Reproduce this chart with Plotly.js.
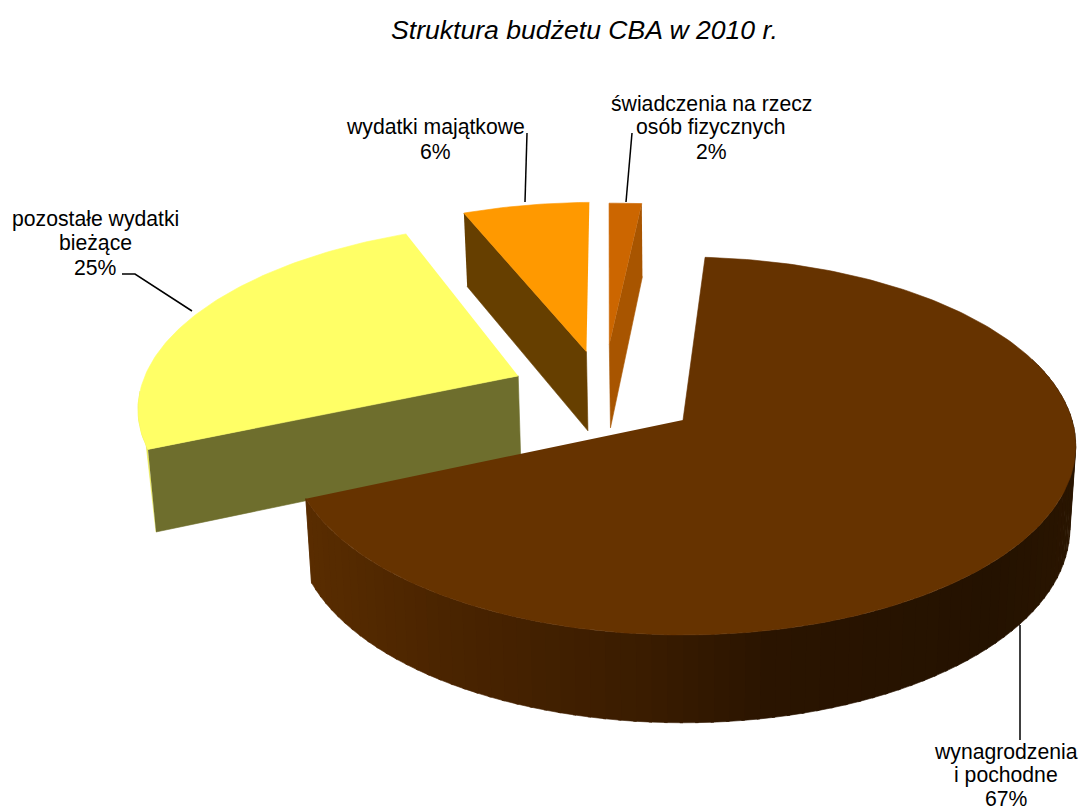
<!DOCTYPE html>
<html><head><meta charset="utf-8">
<script src="https://cdn.plot.ly/plotly-3.0.1.min.js"></script>
<style>html,body{margin:0;padding:0;background:#fff}#c{width:1080px;height:812px}</style>
</head><body><div id="c"></div>
<script>
const categories = ["wynagrodzenia i pochodne","pozostałe wydatki bieżące","wydatki majątkowe","świadczenia na rzecz osób fizycznych"];
const values = [67.4,25.1,6.2,1.6];
const sliceLabels = [["wynagrodzenia","i pochodne","67%"],["pozostałe wydatki","bieżące","25%"],["wydatki majątkowe","6%"],["świadczenia na rzecz","osób fizycznych","2%"]];
const topColors = ["#663300","#FFFF66","#FF9900","#CC6600"];
const wallColors = ["#663300","#6E6E2D","#663F00","#A85500"];
const titleText = "Struktura budżetu CBA w 2010 r.";

// plane-to-page perspective
const CX=683, CY=420, A=389, B=185.4, K=0.1376, S=0.015, ROT=3.7, DEG_PER_UNIT=3.6;
const explode=[[0,0],[-0.43,-0.246],[-0.27,-0.40],[-0.2095,-0.394]];
const apexNudge=[[0,0],[-3,0],[3,2],[3.6,-6]];
const lowerNudge=[0,0,0,4];
function depth(w){return 126.6-45*w;}
function upper(u,v){const w=1-K*v;return [CX+A*u/w,CY+B*v/w];}
function lower(u,v){const w=1-K*v,p=upper(u,v);return [p[0]-(p[0]-CX)*S,p[1]+depth(w)];}
function rim(i,t){const r=t*Math.PI/180;return [explode[i][0]+Math.sin(r),explode[i][1]-Math.cos(r)];}
function arc(i,a,b,f){const o=[],n=Math.max(2,Math.ceil(Math.abs(b-a)));for(let k=0;k<=n;k++){const q=rim(i,a+(b-a)*k/n);o.push(f(q[0],q[1]));}return o;}
const traces=[];
function poly(pts,color){traces.push({type:'scatter',mode:'lines',x:pts.map(p=>p[0]),y:pts.map(p=>p[1]),fill:'toself',fillcolor:color,line:{color:color,width:0.6},hoverinfo:'skip',showlegend:false});}
function seg(pts){traces.push({type:'scatter',mode:'lines',x:pts.map(p=>p[0]),y:pts.map(p=>p[1]),line:{color:'#000',width:1.5},hoverinfo:'skip',showlegend:false});}

let acc=ROT; const ranges=values.map(v=>{const s=acc;acc+=v*DEG_PER_UNIT;return [s,acc];});

const gradX=[300,450,650,780,1000,1080];
const gradC=[[90,45,0],[74,36,0],[58,28,0],[42,20,0],[36,18,0],[42,21,0]];
function gradient(x){for(let i=0;i<gradX.length-1;i++){if(x<=gradX[i+1]){const f=Math.max(0,(x-gradX[i])/(gradX[i+1]-gradX[i]));const c=gradC[i].map((g,j)=>Math.round(g+(gradC[i+1][j]-g)*f));return `rgb(${c})`;}}return `rgb(${gradC[5]})`;}

function apexU(i){const p=upper(explode[i][0],explode[i][1]);return [p[0]+apexNudge[i][0],p[1]+apexNudge[i][1]];}
function apexL(i){const p=lower(explode[i][0],explode[i][1]);return [p[0]+apexNudge[i][0],p[1]+apexNudge[i][1]+lowerNudge[i]];}

// small slice: wall on its right cut
{const i=3,[a,b]=ranges[i];const e=rim(i,b);poly([upper(e[0],e[1]),apexU(i),apexL(i),lower(e[0],e[1])],wallColors[i]);poly([apexU(i),...arc(i,a,b,upper)],topColors[i]);}
// orange slice: wall on its left cut
{const i=2,[a,b]=ranges[i];const e=rim(i,a);poly([upper(e[0],e[1]),apexU(i),apexL(i),lower(e[0],e[1])],wallColors[i]);poly([apexU(i),...arc(i,a,b,upper)],topColors[i]);}
// yellow slice: cut wall and a sliver of rim
{const i=1,[a,b]=ranges[i];const e=rim(i,a);
 poly([...arc(i,a,265,upper),lower(e[0],e[1])],"#E6E650");
 poly([upper(e[0],e[1]),apexU(i),apexL(i),lower(e[0],e[1])],wallColors[i]);poly([apexU(i),...arc(i,a,b,upper)],topColors[i]);}
// brown slice: shaded rim
{const i=0,[a,b]=ranges[i];
 for(let t=70;t<b;t+=2){const t2=Math.min(t+2.4,b);const s=[...arc(i,t,t2,upper),...arc(i,t2,t,lower)];poly(s,gradient(s[0][0]));}
 poly([apexU(i),...arc(i,a,b,upper)],topColors[i]);}

// leader lines
seg([[527,133],[525,202]]);
seg([[632,133],[626,202]]);
seg([[122,274],[135,274],[192,311]]);
seg([[1020,625],[1020,740]]);

const labelX=[1006,95,435,711];
const labelY=[752,219,127,103];
const labelPitch=[23,24,24,24];
const annotations=[];
sliceLabels.forEach((lines,i)=>lines.forEach((t,j)=>annotations.push({x:labelX[i],y:labelY[i]+j*labelPitch[i],xref:'x',yref:'y',text:t,showarrow:false,xanchor:'center',yanchor:'middle',font:{family:'Liberation Sans, Arial',size:21.2,color:'#000'}})));
annotations.push({x:584,y:30,xref:'x',yref:'y',text:'<i>'+titleText+'</i>',showarrow:false,xanchor:'center',yanchor:'middle',font:{family:'Liberation Sans, Arial',size:26.6,color:'#000'}});

Plotly.newPlot('c',traces,{width:1080,height:812,margin:{l:0,r:0,t:0,b:0},paper_bgcolor:'#fff',plot_bgcolor:'#fff',showlegend:false,
 xaxis:{range:[0,1080],visible:false,fixedrange:true},yaxis:{range:[812,0],visible:false,fixedrange:true},annotations},{displayModeBar:false,staticPlot:true});
</script></body></html>
